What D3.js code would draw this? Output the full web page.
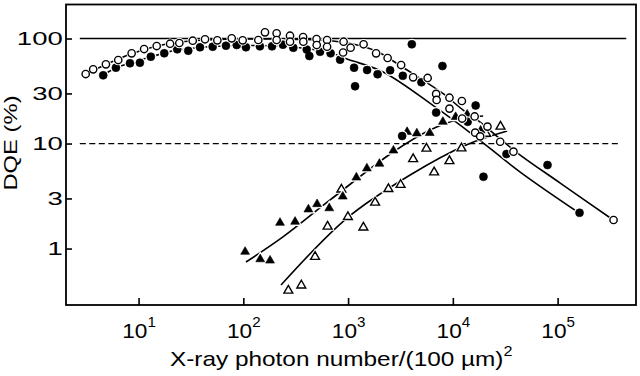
<!DOCTYPE html>
<html>
<head>
<meta charset="utf-8">
<script src="https://cdn.jsdelivr.net/npm/d3@7/dist/d3.min.js"></script>
<style>
  body { margin: 0; background: #fff; }
  svg { display: block; }
  text { font-family: "Liberation Sans", Arial, sans-serif; fill: #000; }
</style>
</head>
<body>
<svg></svg>
<script>
// open circles
var openCircleN = [3.13, 3.69, 4.88, 6.40, 8.59, 11.3, 14.9, 20.0, 24.5, 32.9, 43.1, 56.5, 77.5, 98.6, 139, 161, 208, 208, 279, 279, 372, 374, 500, 502, 630, 630, 906, 1057, 896, 1406, 1851, 2385, 3208, 4178, 5748, 6927, 7000, 9280, 9280, 12190, 12270, 16150, 16330, 18230, 21400, 28300, 37900, 342000];
var openCircleDQE = [45.9, 50.9, 56.8, 62.4, 72.3, 79.4, 84.8, 89.2, 90.6, 95.3, 98.3, 96.1, 100.4, 96.1, 96.8, 114.6, 112.1, 96.8, 106.3, 93.2, 103.3, 93.2, 98.9, 86.7, 96.8, 83.5, 93.2, 81.7, 73.6, 88.1, 72.3, 65.2, 55.9, 42.7, 42.1, 29.7, 26.0, 27.3, 21.5, 25.4, 17.3, 18.1, 12.7, 11.7, 14.5, 10.4, 8.36, 1.87];

// filled circles
var filledCircleN = [4.60, 6.08, 8.28, 10.3, 13.1, 17.6, 23.4, 29.8, 38.6, 51.0, 68.3, 86.5, 106, 144, 188, 239, 300, 403, 427, 540, 681, 839, 1141, 1166, 1519, 1913, 2520, 3330, 4058, 5012, 7956, 6927, 3280, 13850, 16510, 19600, 32500, 80100, 161900];
var filledCircleDQE = [44.6, 52.7, 58.1, 58.8, 67.1, 72.3, 78.9, 76.5, 82.5, 83.5, 85.4, 86.7, 82.5, 84.2, 84.2, 87.3, 81.6, 78.4, 68.1, 74.8, 72.3, 62.9, 52.7, 35.1, 50.1, 45.7, 49.8, 44.1, 88.1, 38.3, 54.7, 19.7, 11.8, 16.1, 23.0, 4.83, 7.94, 6.24, 2.19];

// filled triangles
var filledTriN = [104, 145, 180, 224, 312, 418, 506, 661, 890, 1200, 1512, 1991, 2709, 3660, 4530, 6015, 8030, 10630, 13700, 18430];
var filledTriDQE = [0.932, 0.791, 0.769, 1.76, 1.80, 2.36, 2.65, 2.42, 3.13, 4.75, 5.80, 6.42, 8.58, 12.9, 12.5, 12.6, 16.1, 17.9, 18.9, 13.3];

// open triangles
var openTriN = [269, 358, 484, 637, 863, 996, 1400, 1811, 2426, 3172, 4178, 5595, 6627, 9280, 12080, 20800, 28490];
var openTriDQE = [0.398, 0.446, 0.835, 1.62, 3.65, 2.0, 1.59, 2.74, 3.69, 4.04, 7.12, 8.96, 5.32, 6.81, 9.0, 12.4, 14.5];

// fitted curves
var fitOpenCircleN = [3.15, 4.88, 8.46, 15.0, 24.9, 43.1, 93.0, 224, 540, 916, 1453, 2022, 2690, 3660, 7906, 12540, 18230, 28300, 43950, 105900, 339800];
var fitOpenCircleDQE = [45.9, 56.6, 71.2, 84.8, 92.6, 96.8, 98.9, 98.9, 96.8, 91.6, 83.0, 72.7, 61.1, 50.1, 30.3, 20.8, 16.0, 11.04, 7.77, 4.20, 1.87];
var fitFilledCircleN = [4.57, 6.08, 8.28, 13.1, 17.5, 23.3, 38.6, 68.3, 116, 224, 434, 688, 978, 2160, 6774, 15630, 43950, 160800];
var fitFilledCircleDQE = [44.9, 52.4, 58.4, 66.7, 72.7, 77.7, 82.1, 84.8, 85.8, 84.8, 79.4, 72.7, 63.8, 48.0, 22.3, 12.05, 5.35, 2.18];
var fitFilledTriN = [106, 239, 673, 2690, 6070, 11740, 19460];
var fitFilledTriDQE = [0.744, 1.29, 2.90, 8.30, 13.45, 17.1, 18.3];
var fitOpenTriN = [229, 978, 3910, 13400, 33000];
var fitOpenTriDQE = [0.449, 1.95, 5.01, 9.68, 13.15];

// reference levels (100 % solid, 10 % dashed)
var refLevels = [100, 10];
var refFromN = [2.75, 2.75];
var refToN = [452000, 396000];

var xTicks = [10, 100, 1000, 10000, 100000];
var yTicks = [1, 3, 10, 30, 100];

const svgWidth = 640,
    svgHeight = 376;

var svg = d3.select("svg")
    .attr("width", svgWidth)
    .attr("height", svgHeight);

var x = d3.scaleLog()
    .domain([2.03, 560000])
    .range([66, 636]);

var y = d3.scaleLog()
    .domain([0.29, 210.8])
    .range([305, 4.5]);

var zip = (xs, ys) => xs.map((v, i) => [v, ys[i]]);

// axes, ticks pointing inward
var xAxis = d3.axisBottom(x)
    .tickValues(xTicks)
    .tickSizeInner(-7)
    .tickSizeOuter(0)
    .tickFormat("");

var yAxis = d3.axisLeft(y)
    .tickValues(yTicks)
    .tickSizeInner(-6)
    .tickSizeOuter(0)
    .tickPadding(3)
    .tickFormat(d3.format("d"));

var gx = svg.append("g")
    .attr("transform", "translate(0," + y.range()[0] + ")")
    .call(xAxis);

var gy = svg.append("g")
    .attr("transform", "translate(" + x.range()[0] + ",0)")
    .call(yAxis);

svg.selectAll(".domain").remove();
svg.selectAll(".tick line")
    .attr("stroke", "#000")
    .attr("stroke-width", 1.6);

// x tick labels as powers of ten
gx.selectAll(".tick text").remove();
var xLab = gx.selectAll(".tick")
    .append("text")
    .attr("y", 33)
    .attr("text-anchor", "middle")
    .attr("transform", "scale(1.08,1)")
    .attr("font-size", 21);
xLab.append("tspan").text("10");
xLab.append("tspan")
    .attr("dy", -11)
    .attr("font-size", 14)
    .text(d => Math.round(Math.log10(d)));

gy.selectAll(".tick text")
    .attr("font-size", 19)
    .attr("fill", "#000")
    .attr("x", -2.2)
    .attr("transform", "scale(1.45,1)");

// frame
svg.append("rect")
    .attr("x", x.range()[0])
    .attr("y", y.range()[1])
    .attr("width", x.range()[1] - x.range()[0])
    .attr("height", y.range()[0] - y.range()[1])
    .attr("fill", "none")
    .attr("stroke", "#000")
    .attr("stroke-width", 1.8);

// reference lines
svg.selectAll(".ref")
    .data(refLevels)
    .enter()
    .append("line")
    .attr("x1", (d, i) => x(refFromN[i]))
    .attr("x2", (d, i) => x(refToN[i]))
    .attr("y1", d => y(d))
    .attr("y2", d => y(d))
    .attr("stroke", "#000")
    .attr("stroke-width", (d, i) => i == 0 ? 1.3 : 1.2)
    .attr("stroke-dasharray", (d, i) => i == 0 ? null : "6,3.5");

// fitted curves
var line = d3.line()
    .x(d => x(d[0]))
    .y(d => y(d[1]))
    .curve(d3.curveCatmullRom.alpha(0.5));

var fits = [
    zip(fitOpenCircleN, fitOpenCircleDQE),
    zip(fitFilledCircleN, fitFilledCircleDQE),
    zip(fitFilledTriN, fitFilledTriDQE),
    zip(fitOpenTriN, fitOpenTriDQE)
];

svg.selectAll(".fit")
    .data(fits)
    .enter()
    .append("path")
    .attr("d", line)
    .attr("fill", "none")
    .attr("stroke", "#000")
    .attr("stroke-width", 1.6);

// markers, each with a white halo that breaks the curve behind it
var series = [
    { pts: zip(openTriN, openTriDQE), type: d3.symbolTriangle, size: 34, filled: false },
    { pts: zip(filledTriN, filledTriDQE), type: d3.symbolTriangle, size: 34, filled: true },
    { pts: zip(filledCircleN, filledCircleDQE), type: d3.symbolCircle, size: 50, filled: true },
    { pts: zip(openCircleN, openCircleDQE), type: d3.symbolCircle, size: 42, filled: false }
];

series.forEach(function(s) {
    var sym = d3.symbol().type(s.type).size(s.size);
    var g = svg.append("g");
    g.selectAll(".halo")
        .data(s.pts)
        .enter()
        .append("path")
        .attr("d", sym)
        .attr("transform", d => "translate(" + x(d[0]) + "," + y(d[1]) + ")")
        .attr("fill", "#fff")
        .attr("stroke", "#fff")
        .attr("stroke-width", 3.2);
    g.selectAll(".mark")
        .data(s.pts)
        .enter()
        .append("path")
        .attr("d", sym)
        .attr("transform", d => "translate(" + x(d[0]) + "," + y(d[1]) + ")")
        .attr("fill", s.filled ? "#000" : "#fff")
        .attr("stroke", "#000")
        .attr("stroke-width", s.filled ? 0.6 : 1.4);
});

// axis titles
var xt = svg.append("text")
    .attr("transform", "translate(170,366) scale(1.16,1)")
    .attr("font-size", 21);
xt.append("tspan").text("X-ray photon number/(100 \u00b5m)");
xt.append("tspan")
    .attr("dy", -10)
    .attr("font-size", 14)
    .text("2");

svg.append("text")
    .attr("transform", "translate(17,143) rotate(-90) scale(1.28,1)")
    .attr("text-anchor", "middle")
    .attr("font-size", 18.6)
    .text("DQE (%)");
</script>
</body>
</html>
